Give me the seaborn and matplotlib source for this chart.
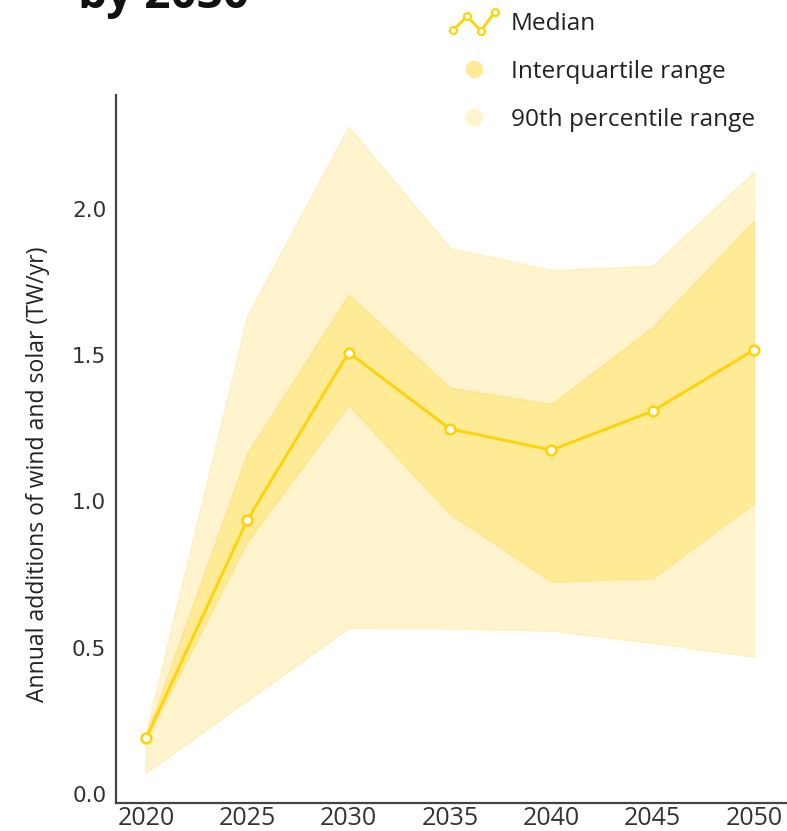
import matplotlib
matplotlib.use("Agg")
import matplotlib.pyplot as plt
import seaborn as sns
import pandas as pd
from matplotlib.lines import Line2D
from matplotlib.legend_handler import HandlerBase

# data (TW/yr)
years = [2020, 2025, 2030, 2035, 2040, 2045, 2050]
median = [0.19, 0.936, 1.508, 1.247, 1.175, 1.308, 1.517]
iqr_low = [0.185, 0.862, 1.329, 0.957, 0.725, 0.737, 0.993]
iqr_high = [0.20, 1.164, 1.705, 1.388, 1.332, 1.595, 1.958]
p90_low = [0.073, 0.32, 0.567, 0.566, 0.558, 0.516, 0.469]
p90_high = [0.21, 1.633, 2.279, 1.865, 1.79, 1.804, 2.125]
yticks = [0.0, 0.5, 1.0, 1.5, 2.0]

GOLD = "#FFD200"
IQR_COL = "#FFEA96"
P90_COL = "#FFF4CE"

df = pd.DataFrame({"year": years, "median": median})

sns.set_style("white")
plt.rcParams["font.family"] = ["Open Sans", "DejaVu Sans"]


class HandlerZigzag(HandlerBase):
    """Legend icon: small zigzag line with open circles"""

    def create_artists(self, legend, orig_handle, xdescent, ydescent,
                       width, height, fontsize, trans):
        xs = [-xdescent + width * f for f in (0.03, 0.34, 0.66, 0.97)]
        ys = [-ydescent + height * f for f in (0.0, 0.8, -0.05, 1.05)]
        line = Line2D(xs, ys, color=GOLD, lw=2, marker="o", markersize=5,
                      markerfacecolor="white", markeredgecolor=GOLD,
                      markeredgewidth=1.5, transform=trans)
        return [line]


fig = plt.figure(figsize=(7.87, 8.31), dpi=100)
ax = fig.add_axes([116 / 787, 28 / 831, 671 / 787, 708 / 831])

ax.fill_between(years, p90_low, p90_high, facecolor=P90_COL,
                edgecolor="#FFEFBC", linewidth=1, zorder=1)
ax.fill_between(years, iqr_low, iqr_high, facecolor=IQR_COL,
                edgecolor="#FFE58A", linewidth=1, zorder=2)
sns.lineplot(data=df, x="year", y="median", ax=ax, color=GOLD, linewidth=2,
             marker="o", markersize=7, markerfacecolor="white",
             markeredgecolor=GOLD, markeredgewidth=1.8, zorder=3)

ax.set_xlim(2018.52, 2051.63)
ax.set_ylim(-0.031, 2.388)
ax.set_xticks(years)
ax.set_yticks(yticks)
ax.set_yticklabels([f"{v:.1f}" for v in yticks], family="DejaVu Sans",
                   fontsize=15.5, color="#333333")
ax.set_xticklabels([str(y) for y in years], family="Open Sans",
                   fontsize=18, color="#333333")
ax.tick_params(axis="both", length=0)
ax.tick_params(axis="x", pad=2)
ax.tick_params(axis="y", pad=7)

ax.set_xlabel("")
ax.set_ylabel("Annual additions of wind and solar (TW/yr)", fontsize=16.6,
              color="#222222", family="Open Sans")
ax.yaxis.set_label_coords(-0.099, 0.465)

for side in ("top", "right"):
    ax.spines[side].set_visible(False)
for side in ("left", "bottom"):
    ax.spines[side].set_color("#444444")
    ax.spines[side].set_linewidth(1.6)

# legend
h_med = Line2D([], [], color=GOLD)
h_iqr = Line2D([], [], linestyle="none", marker="o", markersize=11.5,
               markerfacecolor=IQR_COL, markeredgecolor=IQR_COL)
h_p90 = Line2D([], [], linestyle="none", marker="o", markersize=11.5,
               markerfacecolor=P90_COL, markeredgecolor=P90_COL)
fig.legend([h_med, h_iqr, h_p90],
           ["Median", "Interquartile range", "90th percentile range"],
           handler_map={h_med: HandlerZigzag()},
           loc="upper left", bbox_to_anchor=(452 / 787, 1 - 12 / 831),
           frameon=False, borderpad=0, borderaxespad=0,
           handlelength=1.8, handletextpad=0.6, labelspacing=0.98,
           labelcolor="#222222", prop={"family": "Open Sans", "size": 17.6})

# title cut off by the top edge, as in the source image
fig.text(78 / 787, 1 - 8 / 831, "by 2030", fontsize=33, fontweight="bold",
         family="Open Sans", color="#111111", ha="left", va="baseline")

fig.savefig("out.png", dpi=100)
